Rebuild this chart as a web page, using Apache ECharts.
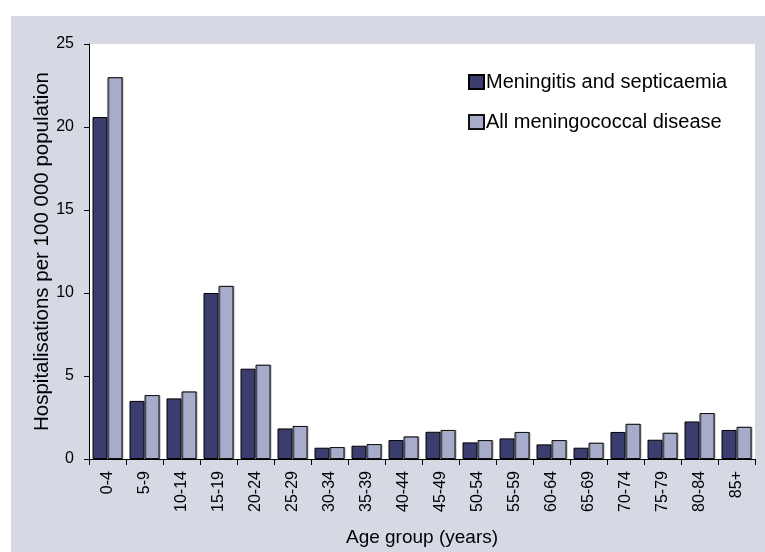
<!DOCTYPE html>
<html>
<head>
<meta charset="utf-8">
<script src="https://cdn.jsdelivr.net/npm/echarts@6/dist/echarts.min.js"></script>
<style>
html,body{margin:0;padding:0;background:#fff;}
#chart{width:765px;height:552px;}
</style>
</head>
<body>
<div id="chart"></div>
<script>
var categories = ['0-4','5-9','10-14','15-19','20-24','25-29','30-34','35-39','40-44','45-49','50-54','55-59','60-64','65-69','70-74','75-79','80-84','85+'];
var meningitisSepticaemia = [20.6,3.5,3.65,10.0,5.44,1.84,0.68,0.8,1.14,1.64,1.0,1.24,0.88,0.68,1.63,1.16,2.26,1.75];
var allMeningococcal = [23.0,3.85,4.07,10.43,5.68,1.99,0.72,0.9,1.36,1.75,1.14,1.63,1.14,0.98,2.12,1.58,2.77,1.94];
var yTicks = [0,5,10,15,20,25];
var seriesNames = ['Meningitis and septicaemia','All meningococcal disease'];

var chart = echarts.init(document.getElementById('chart'));
var font = 'Liberation Sans, Arial, sans-serif';
chart.setOption({
  animation:false,
  backgroundColor:'#ffffff',
  textStyle:{fontFamily:font},
  graphic:[{type:'rect',z:-10,shape:{x:11,y:16,width:754,height:536},style:{fill:'#d6d8e4'}}],
  grid:{left:89,right:10,top:44,bottom:93,show:true,backgroundColor:'#ffffff',borderWidth:0,
        containLabel:false,outerBoundsMode:'none'},
  legend:{
    orient:'vertical',left:463,top:67,itemWidth:15,itemHeight:14,itemGap:20,
    icon:'rect',
    textStyle:{fontSize:20,lineHeight:20,color:'#000',fontFamily:font,padding:[0,0,0,-3]},
    data:seriesNames
  },
  xAxis:{
    type:'category',data:categories,
    name:'Age group (years)',nameLocation:'middle',nameGap:69,nameMoveOverlap:false,
    nameTextStyle:{fontSize:19,color:'#000'},
    axisLine:{lineStyle:{color:'#000',width:1}},
    axisTick:{show:true,length:6,lineStyle:{color:'#000'}},
    axisLabel:{rotate:90,fontSize:16,color:'#000',margin:12}
  },
  yAxis:{
    type:'value',min:0,max:25,interval:5,
    name:'Hospitalisations per 100 000 population',nameLocation:'middle',nameGap:36,nameMoveOverlap:false,
    nameTextStyle:{fontSize:20.5,color:'#000'},
    axisLine:{show:true,lineStyle:{color:'#000',width:1}},
    axisTick:{show:true,length:5,lineStyle:{color:'#000'}},
    axisLabel:{fontSize:16,color:'#000',margin:15,
      formatter:function(v){return yTicks.indexOf(v)>=0?String(v):'';}},
    splitLine:{show:false}
  },
  series:[
    {name:seriesNames[0],type:'bar',data:meningitisSepticaemia,barGap:'0%',barCategoryGap:'19%',
     itemStyle:{color:'#3b3d6f',borderColor:'#000',borderWidth:1}},
    {name:seriesNames[1],type:'bar',data:allMeningococcal,barGap:'0%',barCategoryGap:'19%',
     itemStyle:{color:'#a8accb',borderColor:'#111',borderWidth:1,shadowColor:'rgba(0,0,0,0.35)',shadowOffsetX:1,shadowOffsetY:0,shadowBlur:0}}
  ]
});
</script>
</body>
</html>
